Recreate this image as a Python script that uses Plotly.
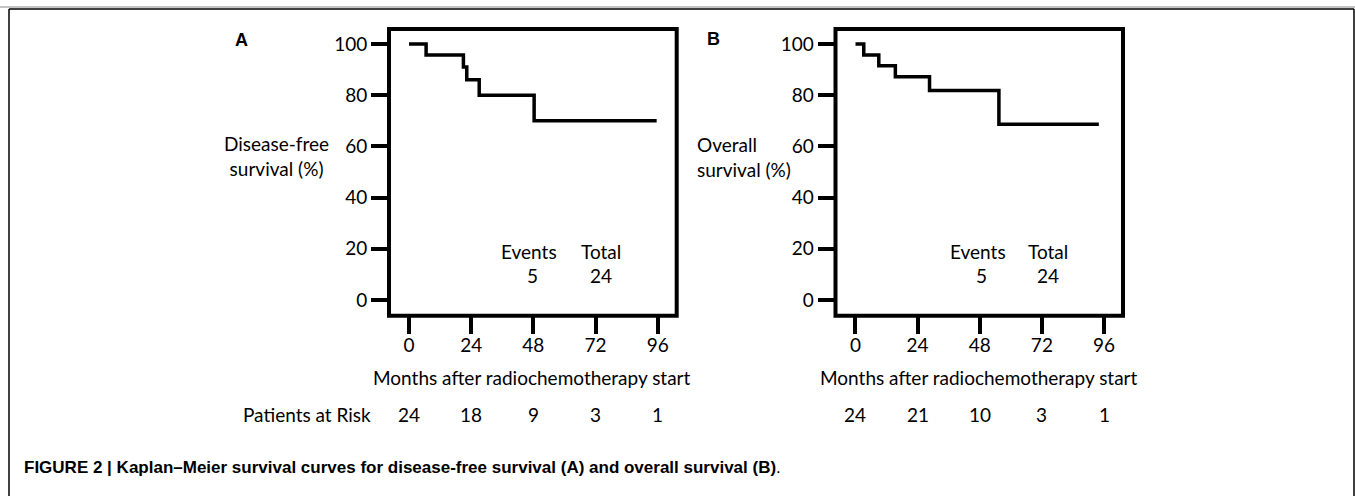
import plotly.graph_objects as go

W, H = 1355, 496

# ---- data ----
months_ticks = [0, 24, 48, 72, 96]
y_ticks = [0, 20, 40, 60, 80, 100]

dfs_time = [0, 6.6, 21.0, 22.3, 27.1, 48.3, 95.6]
dfs_surv = [100, 95.7, 91.0, 86.0, 80.0, 70.0, 70.0]

os_time = [0, 3.2, 9.0, 15.4, 28.6, 55.4, 94.0]
os_surv = [100, 95.7, 91.5, 87.2, 81.8, 68.7, 68.7]

risk_dfs = [24, 18, 9, 3, 1]
risk_os = [24, 21, 10, 3, 1]

events_dfs, total_dfs = 5, 24
events_os, total_os = 5, 24

caption = "FIGURE 2 | Kaplan–Meier survival curves for disease-free survival (A) and overall survival (B)."

# ---- helpers ----
def px(x):
    return x / W

def py(y):
    return 1 - y / H

FONT = "Lato, 'Open Sans', sans-serif"
fs = 19

fig = go.Figure()

fig.add_trace(go.Scatter(x=dfs_time, y=dfs_surv, mode="lines", line=dict(shape="hv", color="black", width=3.5),
                         xaxis="x", yaxis="y", showlegend=False, hoverinfo="skip"))
fig.add_trace(go.Scatter(x=os_time, y=os_surv, mode="lines", line=dict(shape="hv", color="black", width=3.5),
                         xaxis="x2", yaxis="y2", showlegend=False, hoverinfo="skip"))

xr = [-7.72, 103.33]
yr = [-6.13, 105.86]
ydom = [py(315.7), py(29)]

axis_common = dict(ticks="outside", ticklen=17, tickwidth=4, tickcolor="black", showgrid=False, zeroline=False,
                   showline=False, tickfont=dict(family=FONT, size=fs, color="black"), fixedrange=True)

fig.update_layout(
    width=W, height=H, margin=dict(l=0, r=0, t=0, b=0),
    paper_bgcolor="white", plot_bgcolor="white",
    xaxis=dict(domain=[px(389), px(676.7)], range=xr, tickvals=months_ticks, anchor="y",
               ticklabelstandoff=-5, **axis_common),
    yaxis=dict(domain=ydom, range=yr, tickvals=y_ticks, anchor="x", **axis_common),
    xaxis2=dict(domain=[px(835.5), px(1123)], range=xr, tickvals=months_ticks, anchor="y2",
                ticklabelstandoff=-5, **axis_common),
    yaxis2=dict(domain=ydom, range=yr, tickvals=y_ticks, anchor="x2", **axis_common),
)

shapes = []
# plot boxes
for xa, ya in [("x", "y"), ("x2", "y2")]:
    shapes.append(dict(type="rect", xref=f"{xa} domain", yref=f"{ya} domain", x0=0, x1=1, y0=0, y1=1,
                       line=dict(color="black", width=4), layer="above"))
# outer frame
shapes.append(dict(type="line", xref="paper", yref="paper", x0=0, x1=1, y0=py(7), y1=py(7),
                   line=dict(color="#b0b0b0", width=1.5)))
shapes.append(dict(type="line", xref="paper", yref="paper", x0=px(9), x1=px(1354), y0=py(9), y1=py(9),
                   line=dict(color="black", width=1.5)))
shapes.append(dict(type="line", xref="paper", yref="paper", x0=px(9), x1=px(9), y0=py(9), y1=0,
                   line=dict(color="black", width=1.5)))
shapes.append(dict(type="line", xref="paper", yref="paper", x0=px(1354), x1=px(1354), y0=py(9), y1=0,
                   line=dict(color="black", width=1.5)))
fig.update_layout(shapes=shapes)

ann = []

def text(x, y, s, size=fs, xanchor="center", family=FONT, align="center"):
    ann.append(dict(x=px(x), y=py(y), xref="paper", yref="paper", text=s, showarrow=False,
                    xanchor=xanchor, yanchor="middle", align=align,
                    font=dict(family=family, size=size, color="black")))

# panel letters
text(241, 40, "<b>A</b>", size=18, family="Liberation Sans, Arial, sans-serif")
text(713, 39, "<b>B</b>", size=18, family="Liberation Sans, Arial, sans-serif")

# y-axis titles
text(276, 156, "Disease-free<br>survival (%)", align="center")
text(695, 157, "Overall<br>survival (%)", xanchor="left", align="left")

# events / total
text(529, 251, "Events")
text(532, 275, str(events_dfs))
text(601, 251, "Total")
text(601, 275, str(total_dfs))
text(978, 251, "Events")
text(981, 275, str(events_os))
text(1048, 251, "Total")
text(1048, 275, str(total_os))

# x-axis titles
text(532, 377, "Months after radiochemotherapy start")
text(979, 377, "Months after radiochemotherapy start")

# patients at risk
text(373, 414, "Patients at Risk", xanchor="right")
for xa, vals in [("x", risk_dfs), ("x2", risk_os)]:
    for t, v in zip(months_ticks, vals):
        ann.append(dict(x=t, y=py(414), xref=xa, yref="paper", text=str(v), showarrow=False,
                        xanchor="center", yanchor="middle", font=dict(family=FONT, size=fs, color="black")))

# caption
text(22, 467, "<b>" + caption[:-1] + "</b>.", size=17, xanchor="left", align="left",
     family="'Liberation Sans Narrow', 'Liberation Sans', Arial, sans-serif")

fig.update_layout(annotations=ann)

fig.write_html("out.html", config={"displayModeBar": False},
               post_script="document.body.style.margin='0px';")
